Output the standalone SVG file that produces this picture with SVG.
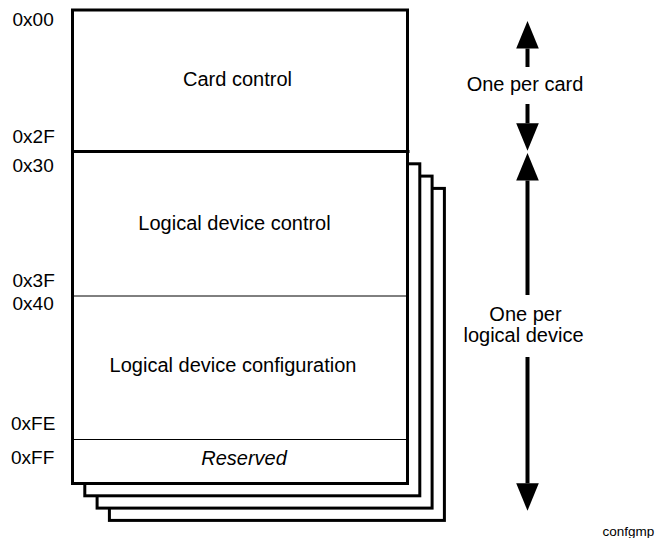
<svg xmlns="http://www.w3.org/2000/svg" width="662" height="538" viewBox="0 0 662 538">
  <style>
    .frame { fill: #ffffff; stroke: #000000; stroke-width: 3; }
    .rule { stroke: #000000; stroke-width: 1; }
    .thick { stroke: #000000; stroke-width: 3; }
    .shaft { stroke: #000000; stroke-width: 4; fill: none; marker-end: url(#head); }
    text { font-family: "Liberation Sans", Arial, sans-serif; fill: #000000; }
    .addr { font-size: 19px; }
    .label { font-size: 20px; text-anchor: middle; }
    .note { font-size: 13.5px; }
  </style>
  <defs>
    <marker id="head" markerUnits="userSpaceOnUse" markerWidth="28" markerHeight="23" refX="0" refY="11.3" orient="auto">
      <path d="M0,0 L27.5,11.3 L0,22.6 Z" fill="#000000"/>
    </marker>
  </defs>

  <!-- stacked logical-device pages, back to front -->
  <g id="page4"><rect class="frame" x="109.4" y="188.4" width="335" height="332"/></g>
  <g id="page3"><rect class="frame" x="97.1" y="176.1" width="335" height="332"/></g>
  <g id="page2"><rect class="frame" x="84.8" y="163.8" width="335" height="332"/></g>

  <!-- front page: card control + first logical device -->
  <g id="card-control">
    <rect class="frame" x="72.5" y="10" width="335" height="141.5"/>
    <text class="label" x="237.5" y="86">Card control</text>
  </g>
  <g id="logical-device">
    <rect class="frame" x="72.5" y="151.5" width="335" height="332"/>
    <line class="thick" x1="71" y1="151.5" x2="409.5" y2="151.5"/>
    <line class="rule" x1="74" y1="296" x2="406" y2="296"/>
    <line class="rule" x1="74" y1="439.5" x2="406" y2="439.5"/>
    <text class="label" x="234.5" y="229.5">Logical device control</text>
    <text class="label" x="233" y="372">Logical device configuration</text>
    <text class="label" x="244" y="465" font-style="italic" font-size="21">Reserved</text>
  </g>

  <!-- register addresses -->
  <g id="addresses">
    <text class="addr" x="12.5" y="26">0x00</text>
    <text class="addr" x="12.5" y="143">0x2F</text>
    <text class="addr" x="12.5" y="171.5">0x30</text>
    <text class="addr" x="12.5" y="287">0x3F</text>
    <text class="addr" x="12.5" y="310">0x40</text>
    <text class="addr" x="11" y="430">0xFE</text>
    <text class="addr" x="11" y="463.5">0xFF</text>
  </g>

  <!-- extent arrows -->
  <g id="connectors">
    <line class="shaft" x1="527.5" y1="67" x2="527.5" y2="48.5"/>
    <line class="shaft" x1="527.5" y1="104" x2="527.5" y2="123.3"/>
    <line class="shaft" x1="527.5" y1="295" x2="527.5" y2="180.5"/>
    <line class="shaft" x1="527.5" y1="357" x2="527.5" y2="483.3"/>
  </g>

  <g id="extent-labels">
    <text class="label" x="525" y="91">One per card</text>
    <text class="label" x="525.5" y="320.5">One per</text>
    <text class="label" x="523.5" y="342">logical device</text>
  </g>

  <text class="note" x="602.5" y="535.5">confgmp</text>
</svg>
